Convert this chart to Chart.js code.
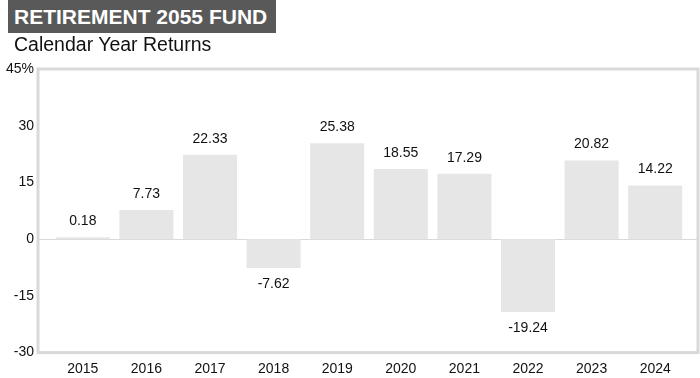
<!DOCTYPE html>
<html>
<head>
<meta charset="utf-8">
<script src="https://cdn.jsdelivr.net/npm/chart.js@4/dist/chart.umd.min.js"></script>
<style>
  html,body{margin:0;padding:0;background:#fff;}
  #wrap{position:relative;width:700px;height:378px;font-family:"Liberation Sans",Arial,sans-serif;}
  #title{position:absolute;left:8px;top:0;width:268px;height:33px;background:#595959;color:#fff;font-weight:bold;font-size:21px;line-height:33px;box-sizing:border-box;padding-left:6px;letter-spacing:0px;white-space:nowrap;}
  #sub{position:absolute;left:14px;top:33px;font-size:19.5px;color:#111;white-space:nowrap;}
  canvas{position:absolute;left:0;top:0;}
</style>
</head>
<body>
<div id="wrap">
  <canvas id="c" width="700" height="378"></canvas>
  <div id="title">RETIREMENT 2055 FUND</div>
  <div id="sub">Calendar Year Returns</div>
</div>
<script>
const years = ["2015","2016","2017","2018","2019","2020","2021","2022","2023","2024"];
const returns = [0.18, 7.73, 22.33, -7.62, 25.38, 18.55, 17.29, -19.24, 20.82, 14.22];
const yTicks = [-30, -15, 0, 15, 30, 45];

const framePlugin = {
  id: 'frame',
  beforeDatasetsDraw(chart) {
    const {ctx, chartArea: a, scales: {y}} = chart;
    const L = a.left - 13, R = a.right + 11;
    ctx.save();
    ctx.strokeStyle = '#d9d9d9';
    ctx.lineWidth = 3;
    ctx.strokeRect(L, a.top, R - L, a.bottom - a.top);
    ctx.lineWidth = 1;
    const y0 = Math.round(y.getPixelForValue(0)) + 0.5;
    ctx.beginPath(); ctx.moveTo(L, y0); ctx.lineTo(R, y0); ctx.stroke();
    ctx.restore();
  },
  afterDatasetsDraw(chart) {
    const {ctx} = chart;
    const meta = chart.getDatasetMeta(0);
    ctx.save();
    ctx.font = '14px "Liberation Sans", Arial, sans-serif';
    ctx.fillStyle = '#111';
    ctx.textAlign = 'center';
    ctx.textBaseline = 'middle';
    meta.data.forEach((bar, i) => {
      const v = returns[i];
      const yy = v >= 0 ? bar.y - 16 : bar.y + 16;
      ctx.fillText(v.toFixed(2), bar.x, yy);
    });
    ctx.restore();
  }
};

new Chart(document.getElementById('c'), {
  type: 'bar',
  data: {
    labels: years,
    datasets: [{
      data: returns,
      backgroundColor: '#e6e6e6',
      borderWidth: 0,
      minBarLength: 2,
      barPercentage: 0.85,
      categoryPercentage: 1
    }]
  },
  options: {
    responsive: false,
    animation: false,
    devicePixelRatio: 1,
    layout: { padding: { top: 69, right: 13, left: 0, bottom: 0 } },
    plugins: { legend: { display: false }, tooltip: { enabled: false } },
    scales: {
      x: {
        grid: { display: false, drawTicks: false },
        border: { display: false },
        ticks: { color: '#111', font: { size: 14, family: '"Liberation Sans", Arial, sans-serif' }, padding: 8, maxRotation: 0 },
        afterFit(s) { s.height = 22; }
      },
      y: {
        min: -30, max: 45,
        afterBuildTicks(s) { s.ticks = yTicks.map(v => ({ value: v })); },
        grid: { display: false, drawTicks: false },
        border: { display: false },
        ticks: {
          color: '#111',
          font: { size: 14, family: '"Liberation Sans", Arial, sans-serif' },
          padding: 17,
          callback: v => v === 45 ? '45%' : String(v)
        },
        afterFit(s) { s.width = 51; }
      }
    }
  },
  plugins: [framePlugin]
});
</script>
</body>
</html>
